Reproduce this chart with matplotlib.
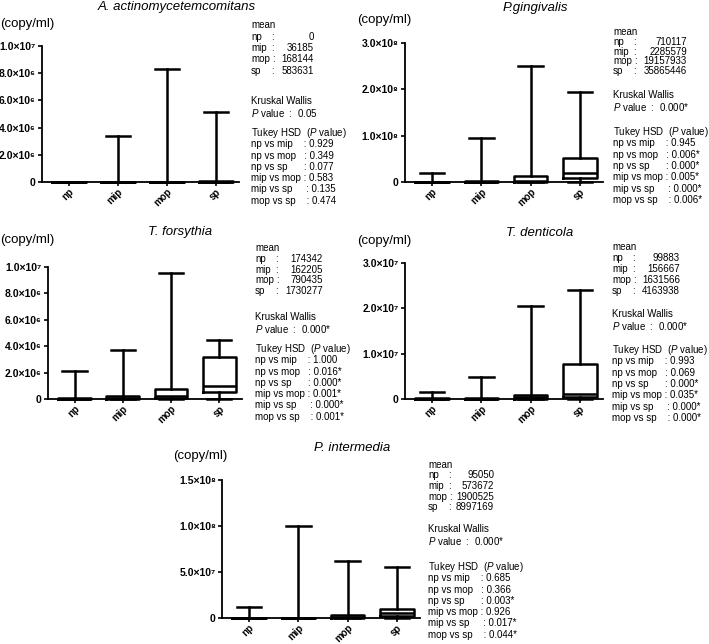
import matplotlib.pyplot as plt

plt.rcParams['font.family'] = ['Liberation Sans', 'DejaVu Sans']
plt.rcParams['mathtext.fontset'] = 'custom'
plt.rcParams['mathtext.rm'] = 'Liberation Sans'
plt.rcParams['mathtext.it'] = 'Liberation Sans:italic'

W, H = 709, 644

groups = ['np', 'mip', 'mop', 'sp']
pairs = ['np vs mip', 'np vs mop', 'np vs sp', 'mip vs mop', 'mip vs sp', 'mop vs sp']

# A. actinomycetemcomitans
aa_lo = [0, 0, 0, 0]
aa_q1 = [0, 0, 0, 0]
aa_med = [0, 0, 0, 0]
aa_q3 = [30000, 20000, 20000, 60000]
aa_hi = [30000, 3.41e6, 8.29e6, 5.17e6]
aa_mean = ['0', '36185', '168144', '583631']
aa_kw = '0.05'
aa_tukey = ['0.929', '0.349', '0.077', '0.583', '0.135', '0.474']

# P. gingivalis
pg_lo = [0, 0, 0, 0.8e6]
pg_q1 = [0, 0, 0.1e6, 8e6]
pg_med = [0.1e6, 0.3e6, 3e6, 19e6]
pg_q3 = [0.5e6, 2e6, 14e6, 51e6]
pg_hi = [19e6, 96e6, 251e6, 195e6]
pg_mean = ['710117', '2285579', '19157933', '35865446']
pg_kw = '0.000*'
pg_tukey = ['0.945', '0.006*', '0.000*', '0.005*', '0.000*', '0.006*']

# T. forsythia
tf_lo = [0, 0, 0, 0]
tf_q1 = [0, 0, 0.05e6, 0.55e6]
tf_med = [0.02e6, 0.05e6, 0.22e6, 1.0e6]
tf_q3 = [0.08e6, 0.2e6, 0.78e6, 3.15e6]
tf_hi = [2.12e6, 3.68e6, 9.55e6, 4.5e6]
tf_mean = ['174342', '162205', '790435', '1730277']
tf_kw = '0.000*'
tf_tukey = ['1.000', '0.016*', '0.000*', '0.001*', '0.000*', '0.001*']

# T. denticola
td_lo = [0, 0, 0, 0]
td_q1 = [0, 0, 0.1e6, 0.4e6]
td_med = [0.05e6, 0.1e6, 0.5e6, 1.1e6]
td_q3 = [0.2e6, 0.3e6, 0.9e6, 7.7e6]
td_hi = [1.5e6, 4.9e6, 20.6e6, 24.1e6]
td_mean = ['99883', '156667', '1631566', '4163938']
td_kw = '0.000*'
td_tukey = ['0.993', '0.069', '0.000*', '0.035*', '0.000*', '0.000*']

# P. intermedia
pi_lo = [0, 0, 0, 0]
pi_q1 = [0, 0, 0.2e6, 2e6]
pi_med = [0.1e6, 0.1e6, 1e6, 5e6]
pi_q3 = [0.5e6, 0.5e6, 3e6, 10e6]
pi_hi = [12e6, 99.5e6, 62e6, 55e6]
pi_mean = ['95050', '573672', '1900525', '8997169']
pi_kw = '0.000*'
pi_tukey = ['0.685', '0.366', '0.003*', '0.926', '0.017*', '0.044*']

SUP = str.maketrans('0123456789', '⁰¹²³⁴⁵⁶⁷⁸⁹')


def sci(v):
    if v == 0:
        return '0'
    e = len(str(int(v))) - 1
    return f'{v / 10 ** e:.1f}×10' + str(e).translate(SUP)


def fx(x):
    return x / W


def fy(y):
    return 1 - y / H


fig = plt.figure(figsize=(W / 100, H / 100), dpi=100)

panels = [
    # title, data, ticks, box px (left, right, zero, top), title pos, unit pos, text x, mean y, mean step, kw y, tukey y, value right
    ('A. actinomycetemcomitans', (aa_lo, aa_q1, aa_med, aa_q3, aa_hi), [0, 2e6, 4e6, 6e6, 8e6, 1e7],
     (42, 239, 182, 46), (177, 7), (0, 24), 251, 25, 11.5, 101, 133, 63, aa_mean, aa_kw, aa_tukey),
    ('P.gingivalis', (pg_lo, pg_q1, pg_med, pg_q3, pg_hi), [0, 1e8, 2e8, 3e8],
     (405, 603, 182, 43), (535, 8), (357, 20), 613, 32, 9.8, 95, 132, 74, pg_mean, pg_kw, pg_tukey),
    ('T. forsythia', (tf_lo, tf_q1, tf_med, tf_q3, tf_hi), [0, 2e6, 4e6, 6e6, 8e6, 1e7],
     (48, 242, 399, 267), (180, 232), (0, 240), 255, 248, 10.8, 317, 349, 68, tf_mean, tf_kw, tf_tukey),
    ('T. denticola', (td_lo, td_q1, td_med, td_q3, td_hi), [0, 1e7, 2e7, 3e7],
     (405, 603, 399, 263), (540, 233), (357, 241), 612, 247, 11.0, 314, 350, 68, td_mean, td_kw, td_tukey),
    ('P. intermedia', (pi_lo, pi_q1, pi_med, pi_q3, pi_hi), [0, 5e7, 1e8, 1.5e8],
     (222, 420, 618, 480), (352, 448), (173, 456), 428, 465, 10.5, 529, 567, 66, pi_mean, pi_kw, pi_tukey),
]

pads = ['    ', '   ', '      ', ' ', '     ', '    ']
colon = [20, 20, 21, 20]

for (title, data, ticks, box, tpos, upos, x0, my, mstep, kwy, tky, rv,
     means, kw, tukey) in panels:
    l, r, z, t = box
    ax = fig.add_axes([fx(l), fy(z), (r - l) / W, (z - t) / H])
    lo, q1, med, q3, hi = data
    stats = [dict(whislo=lo[i], q1=q1[i], med=med[i], q3=q3[i], whishi=hi[i])
             for i in range(4)]
    lp = dict(color='k', lw=1.8)
    arts = ax.bxp(stats, positions=range(4), widths=0.68, capwidths=0.5,
                  showfliers=False, boxprops=lp, whiskerprops=lp,
                  capprops=lp, medianprops=lp)
    for group in arts.values():
        for a in group:
            a.set_clip_on(False)
    ax.set_xlim(-0.55, 3.47)
    ax.set_ylim(0, ticks[-1])
    ax.set_yticks(ticks)
    ax.set_yticklabels([sci(v) for v in ticks], fontsize=7.5, fontweight='bold')
    ax.set_xticks(range(4))
    ax.set_xticklabels(groups, rotation=45, ha='right', rotation_mode='anchor',
                       fontsize=7, fontweight='bold')
    ax.tick_params(axis='both', length=3, width=1.2, pad=1.5)
    ax.tick_params(axis='x', pad=0.5)
    for s in ['top', 'right']:
        ax.spines[s].set_visible(False)
    for s in ['left', 'bottom']:
        ax.spines[s].set_linewidth(1.3)

    fig.text(fx(tpos[0]), fy(tpos[1]), title, ha='center', va='center',
             fontsize=9.5, style='italic')
    fig.text(fx(upos[0]), fy(upos[1]), '(copy/ml)', ha='left', va='center',
             fontsize=9.5)

    fs = 7
    fig.text(fx(x0), fy(my), 'mean', fontsize=fs, va='center')
    for i, g in enumerate(groups):
        y = fy(my + mstep * (i + 1))
        fig.text(fx(x0), y, g, fontsize=fs, va='center')
        fig.text(fx(x0 + colon[i]), y, ':', fontsize=fs, va='center')
        fig.text(fx(x0 + rv), y, means[i], fontsize=fs, va='center', ha='right')
    fig.text(fx(x0), fy(kwy), 'Kruskal Wallis', fontsize=fs, va='center')
    fig.text(fx(x0), fy(kwy + 12), '$P$ value  :  ' + kw, fontsize=fs, va='center')
    fig.text(fx(x0), fy(tky), 'Tukey HSD  ($P$ value)', fontsize=fs, va='center')
    for i, p in enumerate(pairs):
        fig.text(fx(x0), fy(tky + 11.3 * (i + 1)), p + pads[i] + ': ' + tukey[i],
                 fontsize=fs, va='center')

fig.savefig('out.png', dpi=100)
